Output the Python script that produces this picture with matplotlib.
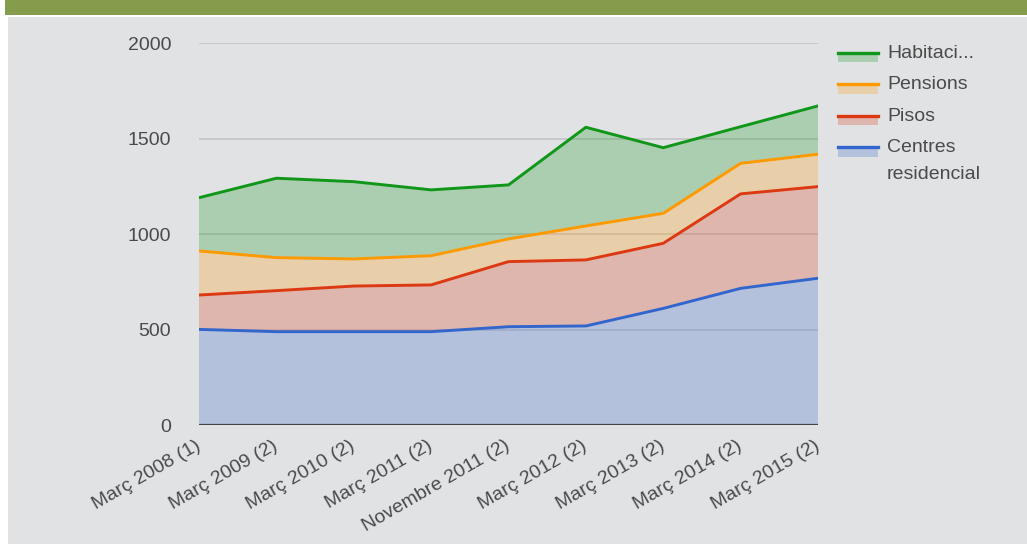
import matplotlib
matplotlib.use("Agg")
import matplotlib.pyplot as plt
from matplotlib.patches import Rectangle
from matplotlib.lines import Line2D
import numpy as np

plt.rcParams['font.family'] = ['Liberation Sans', 'DejaVu Sans']

categories = ["Març 2008 (1)", "Març 2009 (2)", "Març 2010 (2)", "Març 2011 (2)",
              "Novembre 2011 (2)", "Març 2012 (2)", "Març 2013 (2)", "Març 2014 (2)",
              "Març 2015 (2)"]
centres = [501, 489, 489, 489, 515, 519, 611, 716, 769]
pisos = [180, 215, 239, 245, 341, 346, 341, 495, 480]
pensions = [231, 173, 142, 153, 119, 178, 157, 160, 170]
habitacions = [279, 416, 405, 345, 283, 517, 344, 192, 253]

series_names = ["Centres residencial", "Pisos", "Pensions", "Habitaci..."]
legend_labels = [["Habitaci..."], ["Pensions"], ["Pisos"], ["Centres", "residencial"]]
colors = ["#3366CC", "#DC3912", "#FF9900", "#109618"]
yticks = [0, 500, 1000, 1500, 2000]

W, H = 1027, 544
fig = plt.figure(figsize=(W / 100, H / 100), dpi=100)
fig.patch.set_facecolor("white")
bg = "#E1E2E4"
txt = "#4A4A4A"
fig.add_artist(Rectangle((8 / W, 0), 1 - 8 / W, 1 - 17 / H, transform=fig.transFigure,
                         facecolor=bg, edgecolor="none", zorder=-10))
fig.add_artist(Rectangle((5 / W, 1 - 15 / H), 1 - 5 / W, 15 / H, transform=fig.transFigure,
                         facecolor="#849C4B", edgecolor="none", zorder=-10))

ax = fig.add_axes([199 / W, 1 - 425 / H, (818 - 199) / W, (425 - 43.3) / H])
ax.set_facecolor("none")

x = np.arange(len(categories))
data = np.array([centres, pisos, pensions, habitacions], dtype=float)
cum = np.cumsum(data, axis=0)

fill_alpha = 0.26
lower = np.zeros(len(x))
for i in range(4):
    ax.fill_between(x, lower, cum[i], facecolor=colors[i], alpha=fill_alpha, linewidth=0, zorder=2)
    ax.plot(x, cum[i], color=colors[i], lw=2.1, zorder=3, solid_joinstyle="round")
    lower = cum[i]

ax.set_xlim(0, len(x) - 1)
ax.set_ylim(0, 2000)
ax.set_yticks(yticks)
ax.set_yticklabels([str(v) for v in yticks])
ax.grid(axis="y", color="#C4C5C7", lw=1.2, zorder=1)
ax.set_axisbelow(True)
ax.axhline(0, color="#444444", lw=1.6, zorder=4)
for s in ax.spines.values():
    s.set_visible(False)
ax.tick_params(axis="y", length=0, pad=20, labelsize=14, labelcolor=txt)
ax.tick_params(axis="x", length=0, pad=14, labelsize=14, labelcolor=txt)
ax.set_xticks(x)
ax.set_xticklabels(categories, rotation=30, ha="right", va="center", rotation_mode="anchor")

# legend (manual)
ys = [52.7, 84.2, 115.7, 147.3]
for lines, c, yy in zip(legend_labels, colors[::-1], ys):
    fig.add_artist(Rectangle((838 / W, 1 - (yy + 9.5) / H), 40 / W, 9.5 / H,
                             transform=fig.transFigure, facecolor=c, alpha=fill_alpha,
                             edgecolor="none"))
    fig.add_artist(Line2D([838 / W, 878 / W], [1 - yy / H, 1 - yy / H],
                          transform=fig.transFigure, color=c, lw=2.4))
    for k, line in enumerate(lines):
        fig.text(887 / W, 1 - (yy + 0.5 + 27 * k) / H, line, fontsize=14, color=txt,
                 ha="left", va="center")

fig.savefig("out.png", dpi=100, facecolor=fig.get_facecolor())
